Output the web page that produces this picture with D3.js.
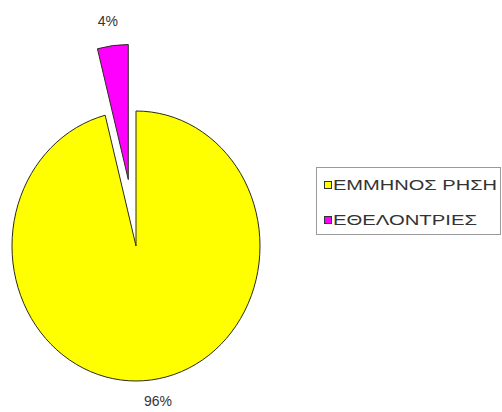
<!DOCTYPE html>
<html>
<head>
<meta charset="utf-8">
<script src="https://cdn.jsdelivr.net/npm/d3@7"></script>
<style>
  html, body { margin: 0; padding: 0; background: #fff; }
  svg { display: block; font-family: "Liberation Sans", Arial, sans-serif; }
</style>
</head>
<body>
<svg id="chart" width="502" height="412"></svg>
<script>
// Share of donors by group
const categories = ["ΕΜΜΗΝΟΣ ΡΗΣΗ", "ΕΘΕΛΟΝΤΡΙΕΣ"];
const values = [96, 4];
const valueLabels = ["96%", "4%"];
const colors = ["#FFFF00", "#FF00FF"];
const explode = [0, 67];

const svg = d3.select("#chart");

const cx = 136, cy = 246;
const rx = 124, ry = 135;

const pie = d3.pie().sort(null).value(d => d.value).startAngle(0).endAngle(2 * Math.PI);
const arcs = pie(categories.map((c, i) => ({ name: c, value: values[i], i })));

const arc = d3.arc().innerRadius(0).outerRadius(ry);

// Slightly elliptical pie: scale x around the centre
const g = svg.append("g")
  .attr("transform", `translate(${cx},${cy}) scale(${rx / ry},1)`);

g.selectAll("path")
  .data(arcs)
  .join("path")
  .attr("d", arc)
  .attr("transform", d => {
    const a = (d.startAngle + d.endAngle) / 2;
    const off = explode[d.data.i];
    return `translate(${Math.sin(a) * off},${-Math.cos(a) * off})`;
  })
  .attr("fill", d => colors[d.data.i])
  .attr("stroke", "#2a2a1a")
  .attr("stroke-width", 1)
  .attr("vector-effect", "non-scaling-stroke");

// Percentage labels outside each slice
const labelPos = [
  { k: 1.155, dx: 4 },
  { k: 1.185, dx: -2 }
];
svg.selectAll("text.pct")
  .data(arcs)
  .join("text")
  .attr("class", "pct")
  .attr("x", d => {
    const a = (d.startAngle + d.endAngle) / 2;
    const off = explode[d.data.i];
    return cx + Math.sin(a) * (off + ry * labelPos[d.data.i].k) * (rx / ry) + labelPos[d.data.i].dx;
  })
  .attr("y", d => {
    const a = (d.startAngle + d.endAngle) / 2;
    const off = explode[d.data.i];
    return cy - Math.cos(a) * (off + ry * labelPos[d.data.i].k);
  })
  .attr("text-anchor", "middle")
  .attr("dominant-baseline", "central")
  .attr("font-size", 14)
  .attr("fill", "#333")
  .text(d => valueLabels[d.data.i]);

// Legend
const legend = svg.append("g");
legend.append("rect")
  .attr("x", 316.5).attr("y", 167.5)
  .attr("width", 184).attr("height", 67)
  .attr("fill", "#fff")
  .attr("stroke", "#9a9a9a")
  .attr("stroke-width", 1);

const legendWidths = [164, 144];
const items = legend.selectAll("g.item")
  .data(categories)
  .join("g")
  .attr("class", "item")
  .attr("transform", (d, i) => `translate(324,${185 + i * 35})`);

items.append("rect")
  .attr("x", 0.5).attr("y", -3.5)
  .attr("width", 7).attr("height", 7)
  .attr("fill", (d, i) => colors[i])
  .attr("stroke", "#333")
  .attr("stroke-width", 1);

items.append("text")
  .attr("x", 9)
  .attr("y", 0)
  .attr("dominant-baseline", "central")
  .attr("font-size", 14)
  .attr("fill", "#333")
  .attr("textLength", (d, i) => legendWidths[i])
  .attr("lengthAdjust", "spacingAndGlyphs")
  .text(d => d);
</script>
</body>
</html>
